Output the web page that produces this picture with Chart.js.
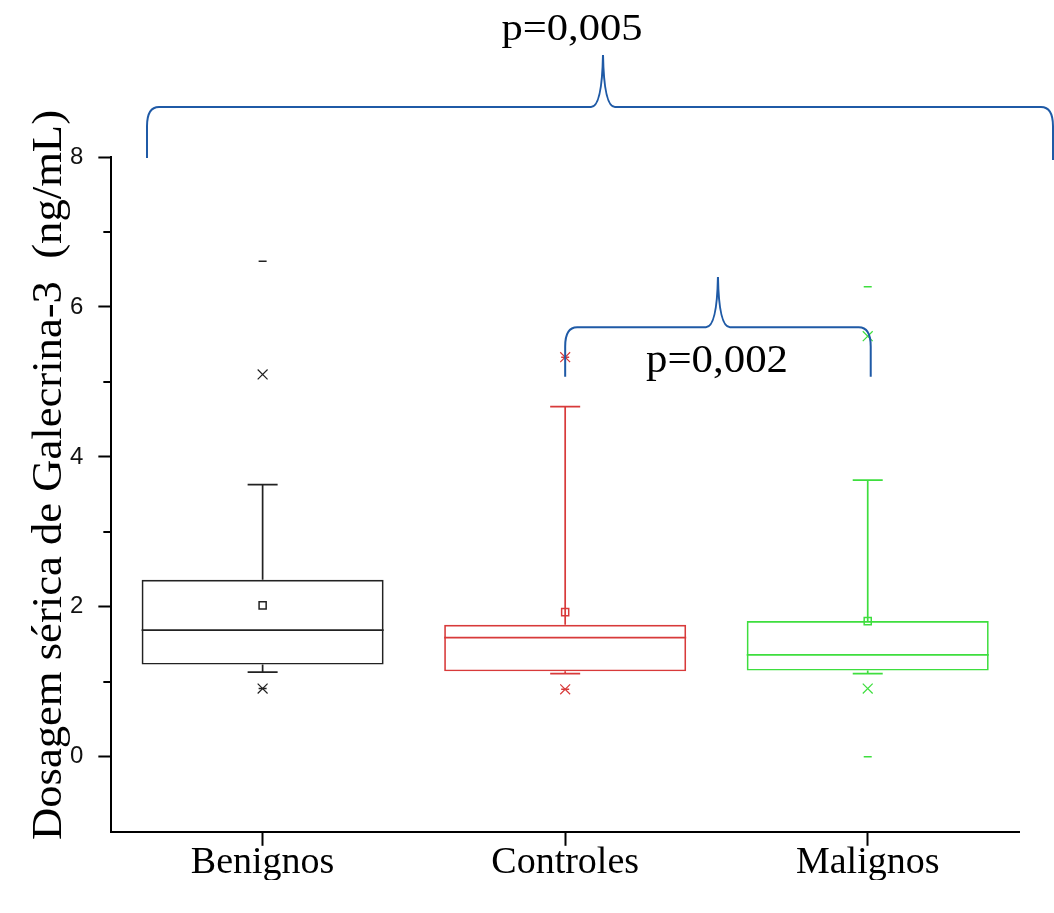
<!DOCTYPE html>
<html>
<head>
<meta charset="utf-8">
<script src="https://cdn.jsdelivr.net/npm/chart.js@4/dist/chart.umd.min.js"></script>
<style>
html,body{margin:0;padding:0;background:#fff;}
#wrap{width:1054px;height:913px;}
</style>
</head>
<body>
<div id="wrap"><canvas id="c" width="1054" height="913"></canvas></div>
<script>
// ---- data ----
const categories = ['Benignos', 'Controles', 'Malignos'];
const q1 = [1.23, 1.14, 1.15];
const q3 = [2.36, 1.76, 1.81];
const median = [1.69, 1.59, 1.36];
const mean = [2.02, 1.93, 1.81];
const whiskerLow = [1.13, 1.11, 1.11];
const whiskerHigh = [3.63, 4.67, 3.69];
const pct1 = [0.91, 0.90, 0.91];
const pct99 = [5.10, 5.33, 5.61];
const minV = [0.91, 0.90, 0.00];
const maxV = [6.61, 5.33, 6.27];
const yTickLabels = [0, 2, 4, 6, 8];
const yTitle = 'Dosagem sérica de Galecrina-3  (ng/mL)';
const pAll = 'p=0,005';
const pCM = 'p=0,002';

const colors = ['#222222', '#d83a3a', '#3ede3e'];
const braceColor = '#1f5aa6';

const pts = arr => categories.map((c, i) => ({x: c, y: arr[i]}));

const boxPlugin = {
  id: 'boxExtras',
  afterDatasetsDraw(chart) {
    const {ctx, scales: {x, y}} = chart;
    const meta = chart.getDatasetMeta(0);
    ctx.save();
    categories.forEach((c, i) => {
      const bar = meta.data[i];
      const cx = x.getPixelForValue(i);
      const half = bar.width / 2;
      const capHalf = 15;
      ctx.strokeStyle = colors[i];
      ctx.lineWidth = 1.7;
      ctx.beginPath();
      const ym = y.getPixelForValue(median[i]);
      ctx.moveTo(cx - half, ym); ctx.lineTo(cx + half, ym);
      const yq3 = y.getPixelForValue(q3[i]);
      const yh = y.getPixelForValue(whiskerHigh[i]);
      ctx.moveTo(cx, yq3); ctx.lineTo(cx, yh);
      ctx.moveTo(cx - capHalf, yh); ctx.lineTo(cx + capHalf, yh);
      const yq1 = y.getPixelForValue(q1[i]);
      const yl = y.getPixelForValue(whiskerLow[i]);
      ctx.moveTo(cx, yq1); ctx.lineTo(cx, yl);
      ctx.moveTo(cx - capHalf, yl); ctx.lineTo(cx + capHalf, yl);
      ctx.stroke();
    });
    ctx.restore();
  },
  afterDraw(chart) {
    const {ctx, scales: {x, y}} = chart;
    ctx.save();
    // minor y ticks
    ctx.strokeStyle = '#000';
    ctx.lineWidth = 2;
    ctx.beginPath();
    [1, 3, 5, 7].forEach(v => {
      const py = Math.round(y.getPixelForValue(v));
      ctx.moveTo(chart.chartArea.left - 8, py);
      ctx.lineTo(chart.chartArea.left, py);
    });
    ctx.stroke();

    // y title
    ctx.save();
    ctx.fillStyle = '#000';
    ctx.font = '42px "Liberation Serif"';
    const tw = ctx.measureText(yTitle).width;
    ctx.translate(61, 475);
    ctx.rotate(-Math.PI / 2);
    ctx.scale(730 / tw, 1);
    ctx.textAlign = 'center';
    ctx.textBaseline = 'alphabetic';
    ctx.fillText(yTitle, 0, 0);
    ctx.restore();

    // braces
    function brace(lx, rx, px, by, hy, ty, rby) {
      const r = 12;
      ctx.beginPath();
      ctx.moveTo(lx, by);
      ctx.lineTo(lx, hy + r * 1.6);
      ctx.quadraticCurveTo(lx, hy, lx + r, hy);
      ctx.lineTo(px - 12, hy);
      ctx.quadraticCurveTo(px - 1, hy, px, ty);
      ctx.quadraticCurveTo(px + 1, hy, px + 12, hy);
      ctx.lineTo(rx - r, hy);
      ctx.quadraticCurveTo(rx, hy, rx, hy + r * 1.6);
      ctx.lineTo(rx, rby);
      ctx.stroke();
    }
    ctx.strokeStyle = braceColor;
    ctx.lineWidth = 2;
    brace(147, 1053, 603, 158, 107, 55, 160);
    const sl = x.getPixelForValue(1), sr = x.getPixelForValue(2) + 3;
    brace(sl, sr, (sl + sr) / 2,
          y.getPixelForValue(5.07), y.getPixelForValue(5.73),
          y.getPixelForValue(6.40), y.getPixelForValue(5.07));

    // p-values
    function fitText(t, cx, by, font, target) {
      ctx.save();
      ctx.font = font;
      const w = ctx.measureText(t).width;
      ctx.translate(cx, by);
      ctx.scale(target / w, 1);
      ctx.textAlign = 'center';
      ctx.textBaseline = 'alphabetic';
      ctx.fillStyle = '#000';
      ctx.fillText(t, 0, 0);
      ctx.restore();
    }
    fitText(pAll, 572, 40, '38px "Liberation Serif"', 141);
    fitText(pCM, 717, 372, '40px "Liberation Serif"', 142);
    ctx.restore();
  }
};

const chart = new Chart(document.getElementById('c'), {
  type: 'bar',
  data: {
    labels: categories,
    datasets: [
      {
        label: 'box',
        data: categories.map((c, i) => [q1[i], q3[i]]),
        backgroundColor: 'rgba(0,0,0,0)',
        borderColor: colors,
        borderWidth: 1.7,
        borderSkipped: false,
        barPercentage: 0.8,
        categoryPercentage: 1.0,
        order: 2
      },
      {
        type: 'line', label: 'mean', data: pts(mean), showLine: false,
        pointStyle: 'rect', pointRadius: 5, pointBorderWidth: 1.5,
        pointBackgroundColor: 'rgba(0,0,0,0)', pointBorderColor: colors, order: 1
      },
      {
        type: 'line', label: 'p99', data: pts(pct99), showLine: false,
        pointStyle: 'crossRot', pointRadius: 7, pointBorderWidth: 1.2,
        pointBorderColor: colors, order: 1
      },
      {
        type: 'line', label: 'p1', data: pts(pct1), showLine: false,
        pointStyle: 'crossRot', pointRadius: 7, pointBorderWidth: 1.2,
        pointBorderColor: colors, order: 1
      },
      {
        type: 'line', label: 'max', data: pts(maxV), showLine: false,
        pointStyle: 'line', pointRadius: 4, pointBorderWidth: 1.5,
        pointBorderColor: colors, order: 1
      },
      {
        type: 'line', label: 'min', data: pts(minV), showLine: false,
        pointStyle: 'line', pointRadius: 4, pointBorderWidth: 1.5,
        pointBorderColor: colors, order: 1
      }
    ]
  },
  options: {
    responsive: false,
    animation: false,
    events: [],
    layout: {padding: {left: 55, right: 35, top: 157, bottom: 33}},
    plugins: {legend: {display: false}, tooltip: {enabled: false}},
    scales: {
      x: {
        offset: true,
        grid: {display: true, drawOnChartArea: false, drawTicks: true, tickLength: 14,
               tickColor: '#000', tickWidth: 2, offset: false},
        border: {display: true, color: '#000', width: 2},
        ticks: {color: '#000', font: {family: '"Liberation Serif"', size: 38, lineHeight: 0.9}, padding: 0}
      },
      y: {
        min: -1, max: 8,
        grid: {display: true, drawOnChartArea: false, drawTicks: true, tickLength: 13,
               tickWidth: 2,
               tickColor: c => (c.tick && c.tick.value >= 0 && c.tick.value % 2 === 0) ? '#000' : 'rgba(0,0,0,0)'},
        border: {display: true, color: '#000', width: 2},
        ticks: {
          stepSize: 1,
          padding: 15,
          color: '#111',
          font: {family: '"Liberation Sans"', size: 24},
          callback: v => yTickLabels.includes(v) ? String(v) : ''
        }
      }
    }
  },
  plugins: [boxPlugin]
});
</script>
</body>
</html>
